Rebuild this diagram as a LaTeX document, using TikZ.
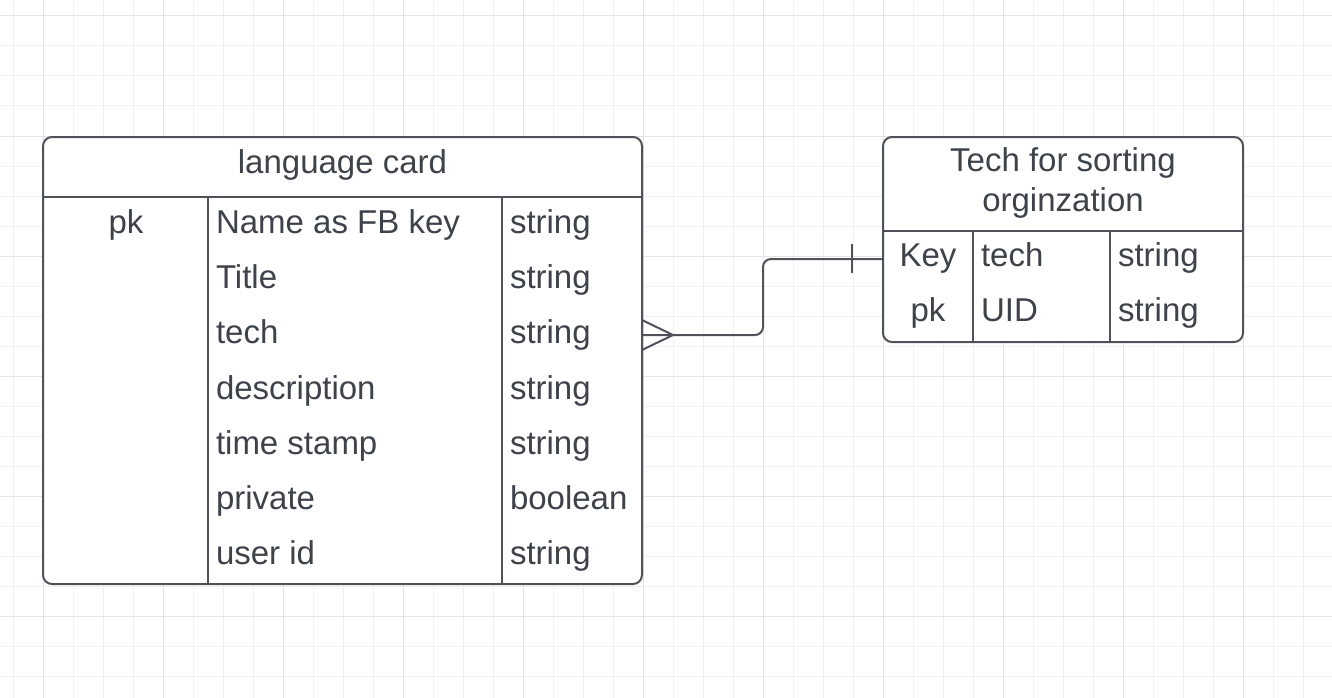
\documentclass[tikz,border=0pt]{standalone}
\usepackage{fontspec}
\setmainfont{Liberation Sans}
\definecolor{gridminor}{HTML}{F0F0F0}
\definecolor{gridmajor}{HTML}{E3E3E3}
\definecolor{linec}{HTML}{4F5359}
\definecolor{textc}{HTML}{3E434A}
\tikzset{
  tablebox/.style={draw=linec, line width=2pt, rounded corners=9pt, fill=white, inner sep=0pt, outer sep=0pt},
  divline/.style={draw=linec, line width=2pt},
  conn/.style={draw=linec, line width=2pt},
  cell/.style={inner sep=0pt, outer sep=0pt, text=textc, font=\fontsize{33}{39}\selectfont},
  lcell/.style={cell, anchor=base west},
  ccell/.style={cell, anchor=base},
}
\begin{document}
\begin{tikzpicture}[x=1pt,y=-1pt]
\useasboundingbox (0,0) rectangle (1332,698);
\fill[white] (0,0) rectangle (1332,698);
% grid
\foreach \x in {13,43,...,1332} \draw[gridminor, line width=1pt] (\x,0) -- (\x,698);
\foreach \y in {16,46,...,697} \draw[gridminor, line width=1pt] (0,\y) -- (1332,\y);
\foreach \x in {43,163,...,1332} \draw[gridmajor, line width=1pt] (\x,0) -- (\x,698);
\foreach \y in {16,136,...,697} \draw[gridmajor, line width=1pt] (0,\y) -- (1332,\y);

% left table
\node[tablebox, minimum width=599pt, minimum height=447pt] (lc) at (342.5,360.5) {};
\draw[divline] (lc.west |- 0,197) -- (lc.east |- 0,197);
\draw[divline] (208,197) -- (208,584);
\draw[divline] (502,197) -- (502,584);
\node[ccell] (lctitle) at (342.5,173) {language card};
\node[ccell] (lcpk) at (126,233.5) {pk};
\foreach \n/\t [count=\i from 0] in {Name as FB key/string, Title/string, tech/string, description/string, time stamp/string, private/boolean, user id/string}{
  \node[lcell] (lcn\i) at (216,233.5+55.2*\i) {\n};
  \node[lcell] (lct\i) at (510,233.5+55.2*\i) {\t};
}

% right table
\node[tablebox, minimum width=360pt, minimum height=205pt] (ts) at (1063,239.5) {};
\draw[divline] (ts.west |- 0,231) -- (ts.east |- 0,231);
\draw[divline] (973,231) -- (973,342);
\draw[divline] (1110,231) -- (1110,342);
\node[ccell] (tstitle1) at (1063,171.5) {Tech for sorting};
\node[ccell] (tstitle2) at (1063,211) {orginzation};
\node[ccell] (tsk1) at (928,266.5) {Key};
\node[ccell] (tsk2) at (928,321.5) {pk};
\node[lcell] (tsn1) at (981,266.5) {tech};
\node[lcell] (tsn2) at (981,321.5) {UID};
\node[lcell] (tst1) at (1118,266.5) {string};
\node[lcell] (tst2) at (1118,321.5) {string};

% connector
\coordinate (fromL) at (lc.east |- 0,335);
\coordinate (toR) at (ts.west |- 0,259);
\draw[conn, rounded corners=8pt] (fromL) -- ++(121,0) |- (toR);
\draw[conn] (fromL) ++(0,-15) -- ++(31,15) -- ++(-31,15);
\draw[conn] (toR) ++(-31,-15) -- ++(0,29);
\end{tikzpicture}
\end{document}
